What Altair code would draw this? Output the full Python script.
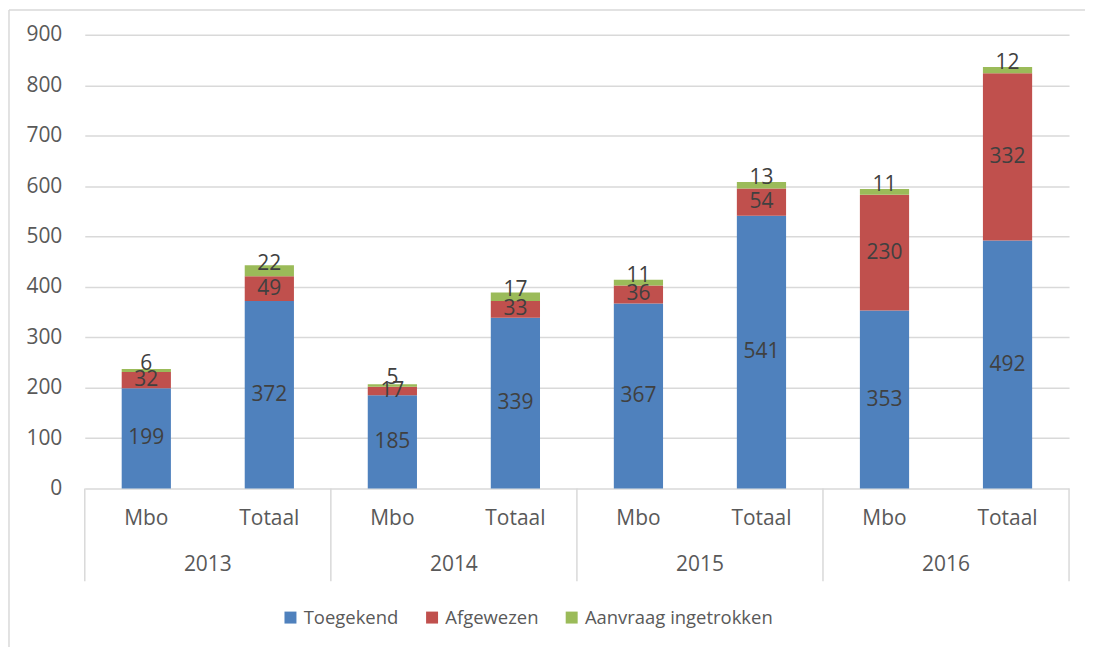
import altair as alt
import pandas as pd

years = ["2013", "2014", "2015", "2016"]
groups = ["Mbo", "Totaal"]
series = ["Toegekend", "Afgewezen", "Aanvraag ingetrokken"]
toegekend = [199, 372, 185, 339, 367, 541, 353, 492]
afgewezen = [32, 49, 17, 33, 36, 54, 230, 332]
ingetrokken = [6, 22, 5, 17, 11, 13, 11, 12]
colors = ["#4F81BD", "#C0504D", "#9BBB59"]
y_ticks = [0, 100, 200, 300, 400, 500, 600, 700, 800, 900]

rows = []
for i in range(8):
    cum = 0
    for k, vals in enumerate([toegekend, afgewezen, ingetrokken]):
        v = vals[i]
        rows.append(dict(pos=i, year=years[i // 2], group=groups[i % 2],
                         serie=series[k], order=k, value=v,
                         y0=cum, y1=cum + v, ym=cum + v / 2,
                         xa=i + 0.3, xb=i + 0.7, xm=i + 0.5))
        cum += v
df = pd.DataFrame(rows)
cats = pd.DataFrame({"xm": [i + 0.5 for i in range(8)], "group": [groups[i % 2] for i in range(8)]})
yrs = pd.DataFrame({"year": years, "mid": [2 * j + 1 for j in range(4)]})
seps = pd.DataFrame({"b": [0, 2, 4, 6, 8]})

W, H = 987, 455
FONT = "Open Sans"
GRID = "#D9D9D9"
xs = alt.Scale(domain=[0, 8], nice=False, zero=False)
ys = alt.Scale(domain=[0, 900], nice=False)

bars = alt.Chart(df).mark_bar().encode(
    x=alt.X("xa:Q", scale=xs, axis=None),
    x2="xb:Q",
    y=alt.Y("y0:Q", scale=ys, axis=alt.Axis(values=y_ticks, domain=False, ticks=False, labelPadding=23,
                                             labelFont=FONT, labelFontSize=21, labelColor="#595959",
                                             gridColor=GRID, gridWidth=1.5, title=None)),
    y2="y1:Q",
    color=alt.Color("serie:N", scale=alt.Scale(domain=series, range=colors),
                    legend=alt.Legend(title=None, orient="none", direction="horizontal",
                                      legendX=197, legendY=575, symbolType="square", symbolSize=144,
                                      symbolStrokeWidth=0, labelFont=FONT, labelFontSize=18.5,
                                      labelColor="#595959", columnPadding=24, labelOffset=4,
                                      labelLimit=400)),
)

lab_main = alt.Chart(df).transform_filter("datum.order < 2").mark_text(
    font=FONT, fontSize=21, color="#404040", baseline="middle"
).encode(x=alt.X("xm:Q", scale=xs, axis=None), y=alt.Y("ym:Q", scale=ys), text="value:Q")

lab_top = alt.Chart(df).transform_filter("datum.order == 2").mark_text(
    font=FONT, fontSize=21, color="#404040", baseline="middle", dy=-7
).encode(x=alt.X("xm:Q", scale=xs, axis=None), y=alt.Y("ym:Q", scale=ys), text="value:Q")

cat_text = alt.Chart(cats).mark_text(
    font=FONT, fontSize=21, color="#595959", baseline="middle"
).encode(x=alt.X("xm:Q", scale=xs, axis=None), y=alt.value(H + 31), text="group:N")

year_text = alt.Chart(yrs).mark_text(
    font=FONT, fontSize=21, color="#595959", baseline="middle"
).encode(x=alt.X("mid:Q", scale=xs, axis=None), y=alt.value(H + 77), text="year:N")

sep = alt.Chart(seps).mark_rule(color=GRID, strokeWidth=1.5).encode(
    x=alt.X("b:Q", scale=xs, axis=None), y=alt.value(H), y2=alt.value(H + 93)
)

frame_df = pd.DataFrame({"k": [0]})
frame_left = alt.Chart(frame_df).mark_rule(color=GRID, strokeWidth=1.5).encode(
    x=alt.value(-76), y=alt.value(-25), y2=alt.value(H + 159)
)
frame_top = alt.Chart(frame_df).mark_rule(color=GRID, strokeWidth=1.5).encode(
    x=alt.value(-76), x2=alt.value(W + 16), y=alt.value(-25)
)

chart = alt.layer(frame_left, frame_top, sep, bars, lab_main, lab_top, cat_text, year_text).properties(
    width=W, height=H, padding=0
).configure_view(strokeWidth=0)

chart.save("out.html", embed_options={"renderer": "svg", "actions": False})
